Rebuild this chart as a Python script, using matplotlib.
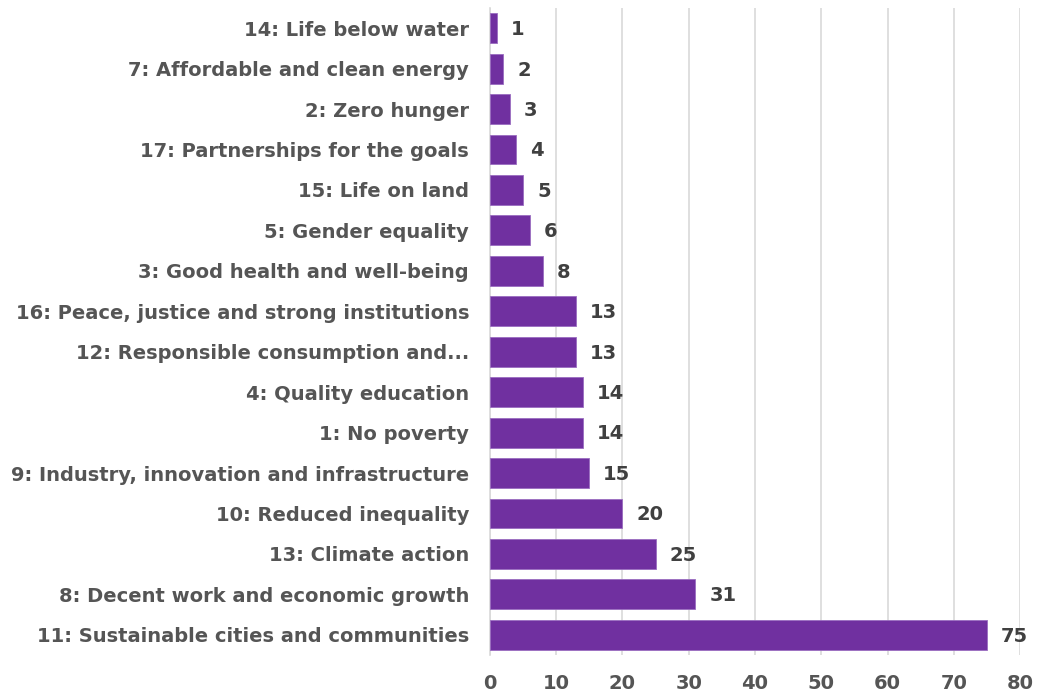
import matplotlib.pyplot as plt
import numpy as np

goals = [
    "14: Life below water",
    "7: Affordable and clean energy",
    "2: Zero hunger",
    "17: Partnerships for the goals",
    "15: Life on land",
    "5: Gender equality",
    "3: Good health and well-being",
    "16: Peace, justice and strong institutions",
    "12: Responsible consumption and...",
    "4: Quality education",
    "1: No poverty",
    "9: Industry, innovation and infrastructure",
    "10: Reduced inequality",
    "13: Climate action",
    "8: Decent work and economic growth",
    "11: Sustainable cities and communities",
]
counts = [1, 2, 3, 4, 5, 6, 8, 13, 13, 14, 14, 15, 20, 25, 31, 75]
x_ticks = [0, 10, 20, 30, 40, 50, 60, 70, 80]

bar_color = "#7030a0"
label_color = "#555555"
value_color = "#404040"

plt.rcParams["font.family"] = ["DejaVu Sans"]
plt.rcParams["font.weight"] = "bold"

fig = plt.figure(figsize=(10.38, 6.93), dpi=100)
ax = fig.add_axes([0.472, 0.0548, 0.5107, 0.9337])

y = np.arange(len(goals))
ax.barh(y, counts, height=0.74, color=bar_color, edgecolor="#9a6cc0",
        linewidth=0.6, zorder=3)

# value labels just right of each bar
for yi, v in zip(y, counts):
    ax.annotate(str(v), (v, yi), xytext=(10, -1), textcoords="offset points",
                ha="left", va="center", fontsize=14, fontweight="bold",
                color=value_color)

ax.set_ylim(len(goals) - 0.5, -0.5)
ax.set_xlim(0, 80)
ax.set_yticks(y)
ax.set_yticklabels(goals, fontsize=14, fontweight="bold", color=label_color)
ax.set_xticks(x_ticks)
ax.set_xticklabels([str(t) for t in x_ticks], fontsize=14,
                   fontweight="bold", color=label_color)

ax.tick_params(axis="y", length=0, pad=15)
ax.tick_params(axis="x", length=0, pad=14)
ax.grid(axis="x", color="#d9d9d9", linewidth=1.2, zorder=0)

for side in ["top", "right", "bottom"]:
    ax.spines[side].set_visible(False)
ax.spines["left"].set_color("#d9d9d9")
ax.spines["left"].set_linewidth(1.2)

fig.savefig("out.png", dpi=100)
